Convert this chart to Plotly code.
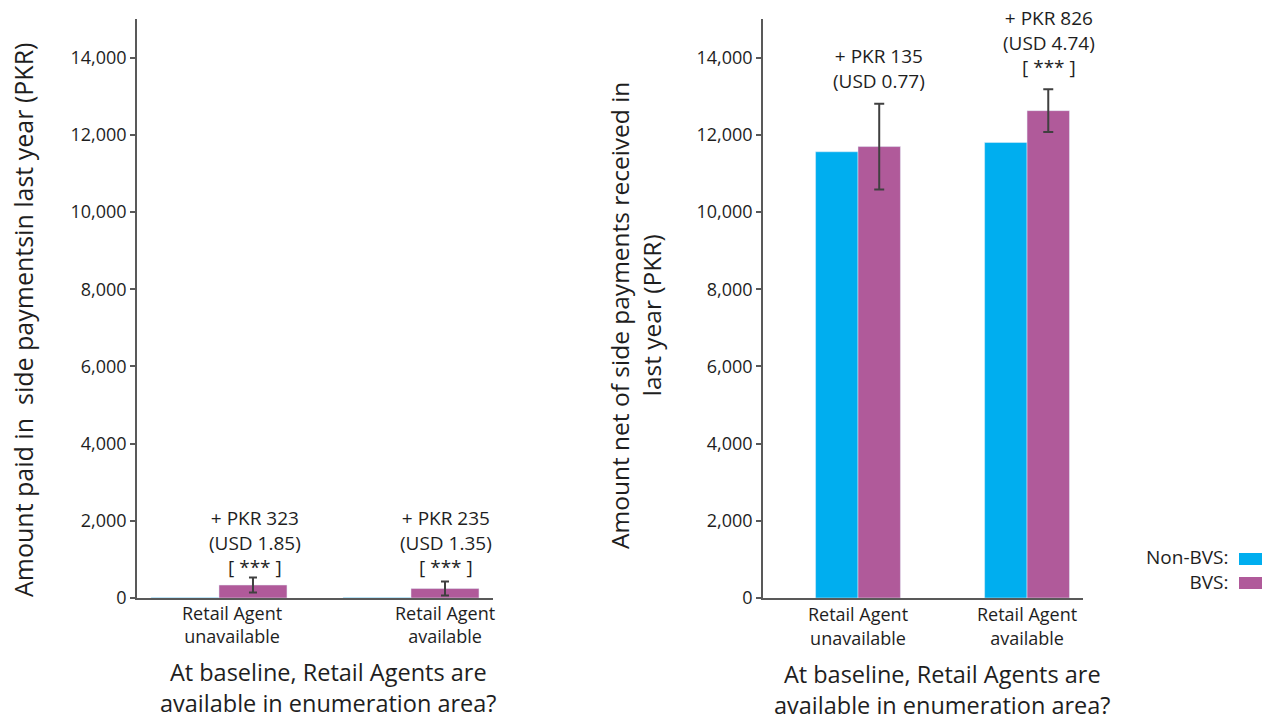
import plotly.graph_objects as go

# ---- data ----
categories = ["Retail Agent<br>unavailable", "Retail Agent<br>available"]

paid_non_bvs = [13, 10]
paid_bvs = [336, 245]
paid_err = [194, 181]
paid_labels = ["+ PKR 323<br>(USD 1.85)<br>[ *** ]",
               "+ PKR 235<br>(USD 1.35)<br>[ *** ]"]

net_non_bvs = [11560, 11800]
net_bvs = [11695, 12626]
net_err = [1112, 551]
net_labels = ["+ PKR 135<br>(USD 0.77)",
              "+ PKR 826<br>(USD 4.74)<br>[ *** ]"]

y_ticks = [0, 2000, 4000, 6000, 8000, 10000, 12000, 14000]
y_tick_text = ["0", "2,000", "4,000", "6,000", "8,000", "10,000", "12,000", "14,000"]

x_title = "At baseline, Retail Agents are<br>available in enumeration area?"

# ---- styling ----
W, H = 1268, 721
BLUE = "#00AEEF"
PURPLE = "#B05A9A"
AXIS = "#595959"
TXT = "#1e1e1e"
FONT = "Open Sans"


def px(x):
    return x / W


def py(y):
    return 1 - y / H


fig = go.Figure()

cat_idx = [0, 1]
left_w = 0.354
right_w = 0.251

err_style = dict(type="data", color="#404040", thickness=2)

fig.add_trace(go.Bar(x=cat_idx, y=paid_non_bvs, name="Non-BVS", marker_color=BLUE,
                     width=left_w, offset=-left_w, xaxis="x", yaxis="y", showlegend=False))
fig.add_trace(go.Bar(x=cat_idx, y=paid_bvs, name="BVS", marker_color=PURPLE,
                     width=left_w, offset=0, xaxis="x", yaxis="y", showlegend=False,
                     error_y=dict(array=paid_err, width=4, **err_style)))
fig.add_trace(go.Bar(x=cat_idx, y=net_non_bvs, name="Non-BVS", marker_color=BLUE,
                     width=right_w, offset=-right_w, xaxis="x2", yaxis="y2", showlegend=False))
fig.add_trace(go.Bar(x=cat_idx, y=net_bvs, name="BVS", marker_color=PURPLE,
                     width=right_w, offset=0, xaxis="x2", yaxis="y2", showlegend=False,
                     error_y=dict(array=net_err, width=5, **err_style)))

ydom = [py(598), py(19)]
yaxis_common = dict(range=[0, 15000], tickvals=y_ticks, ticktext=y_tick_text,
                    showline=True, linecolor=AXIS, linewidth=1.5, ticks="outside",
                    ticklen=5, tickcolor=AXIS, tickwidth=1.5, showgrid=False,
                    zeroline=False, tickfont=dict(family=FONT, size=18, color=TXT),
                    domain=ydom, automargin=False)
xaxis_common = dict(showline=True, linecolor=AXIS, linewidth=1.5, ticks="",
                    showgrid=False, zeroline=False, tickvals=cat_idx,
                    tickfont=dict(family=FONT, size=18, color=TXT), automargin=False)

fig.update_layout(
    width=W, height=H,
    margin=dict(l=0, r=0, t=0, b=0),
    paper_bgcolor="white", plot_bgcolor="white",
    barmode="overlay",
    font=dict(family=FONT, color=TXT),
    xaxis=dict(domain=[px(137), px(493)], range=[-0.427, 1.427],
               showticklabels=False, anchor="y", **xaxis_common),
    yaxis=dict(anchor="x", **yaxis_common),
    xaxis2=dict(domain=[px(763), px(1083)], range=[-0.562, 1.331],
                ticktext=categories, anchor="y2", **xaxis_common),
    yaxis2=dict(anchor="x2", **yaxis_common),
)

ann = []


def text(x, y, s, size, angle=0, xanchor="center", align="center"):
    ann.append(dict(xref="paper", yref="paper", x=px(x), y=py(y), text=s,
                    showarrow=False, xanchor=xanchor, yanchor="middle", align=align,
                    textangle=angle, font=dict(family=FONT, size=size, color=TXT)))


# category labels of the left panel
for cx, lab in zip([232, 445], categories):
    text(cx, 624.5, lab, 18)

# effect labels above bars
for cx, lab in zip([255, 446], paid_labels):
    text(cx, 542, lab, 19)
text(879, 68.5, net_labels[0], 19)
text(1049, 43, net_labels[1], 19)

# axis titles
text(23, 320, "Amount paid in  side paymentsin last year (PKR)", 25, angle=-90)
text(635, 316, "Amount net of side payments received in<br>last year (PKR)", 24.5, angle=-90)
text(328, 687, x_title, 23.5)
text(942, 689, x_title, 23.5)

# legend
text(1231, 569.5, "Non-BVS:<br>BVS:", 19, xanchor="right", align="right")
fig.update_layout(annotations=ann, shapes=[
    dict(type="rect", xref="paper", yref="paper", x0=px(1239), x1=px(1262),
         y0=py(565), y1=py(553), fillcolor=BLUE, line=dict(width=0)),
    dict(type="rect", xref="paper", yref="paper", x0=px(1239), x1=px(1262),
         y0=py(589), y1=py(577), fillcolor=PURPLE, line=dict(width=0)),
])

fig.write_html("out.html")
